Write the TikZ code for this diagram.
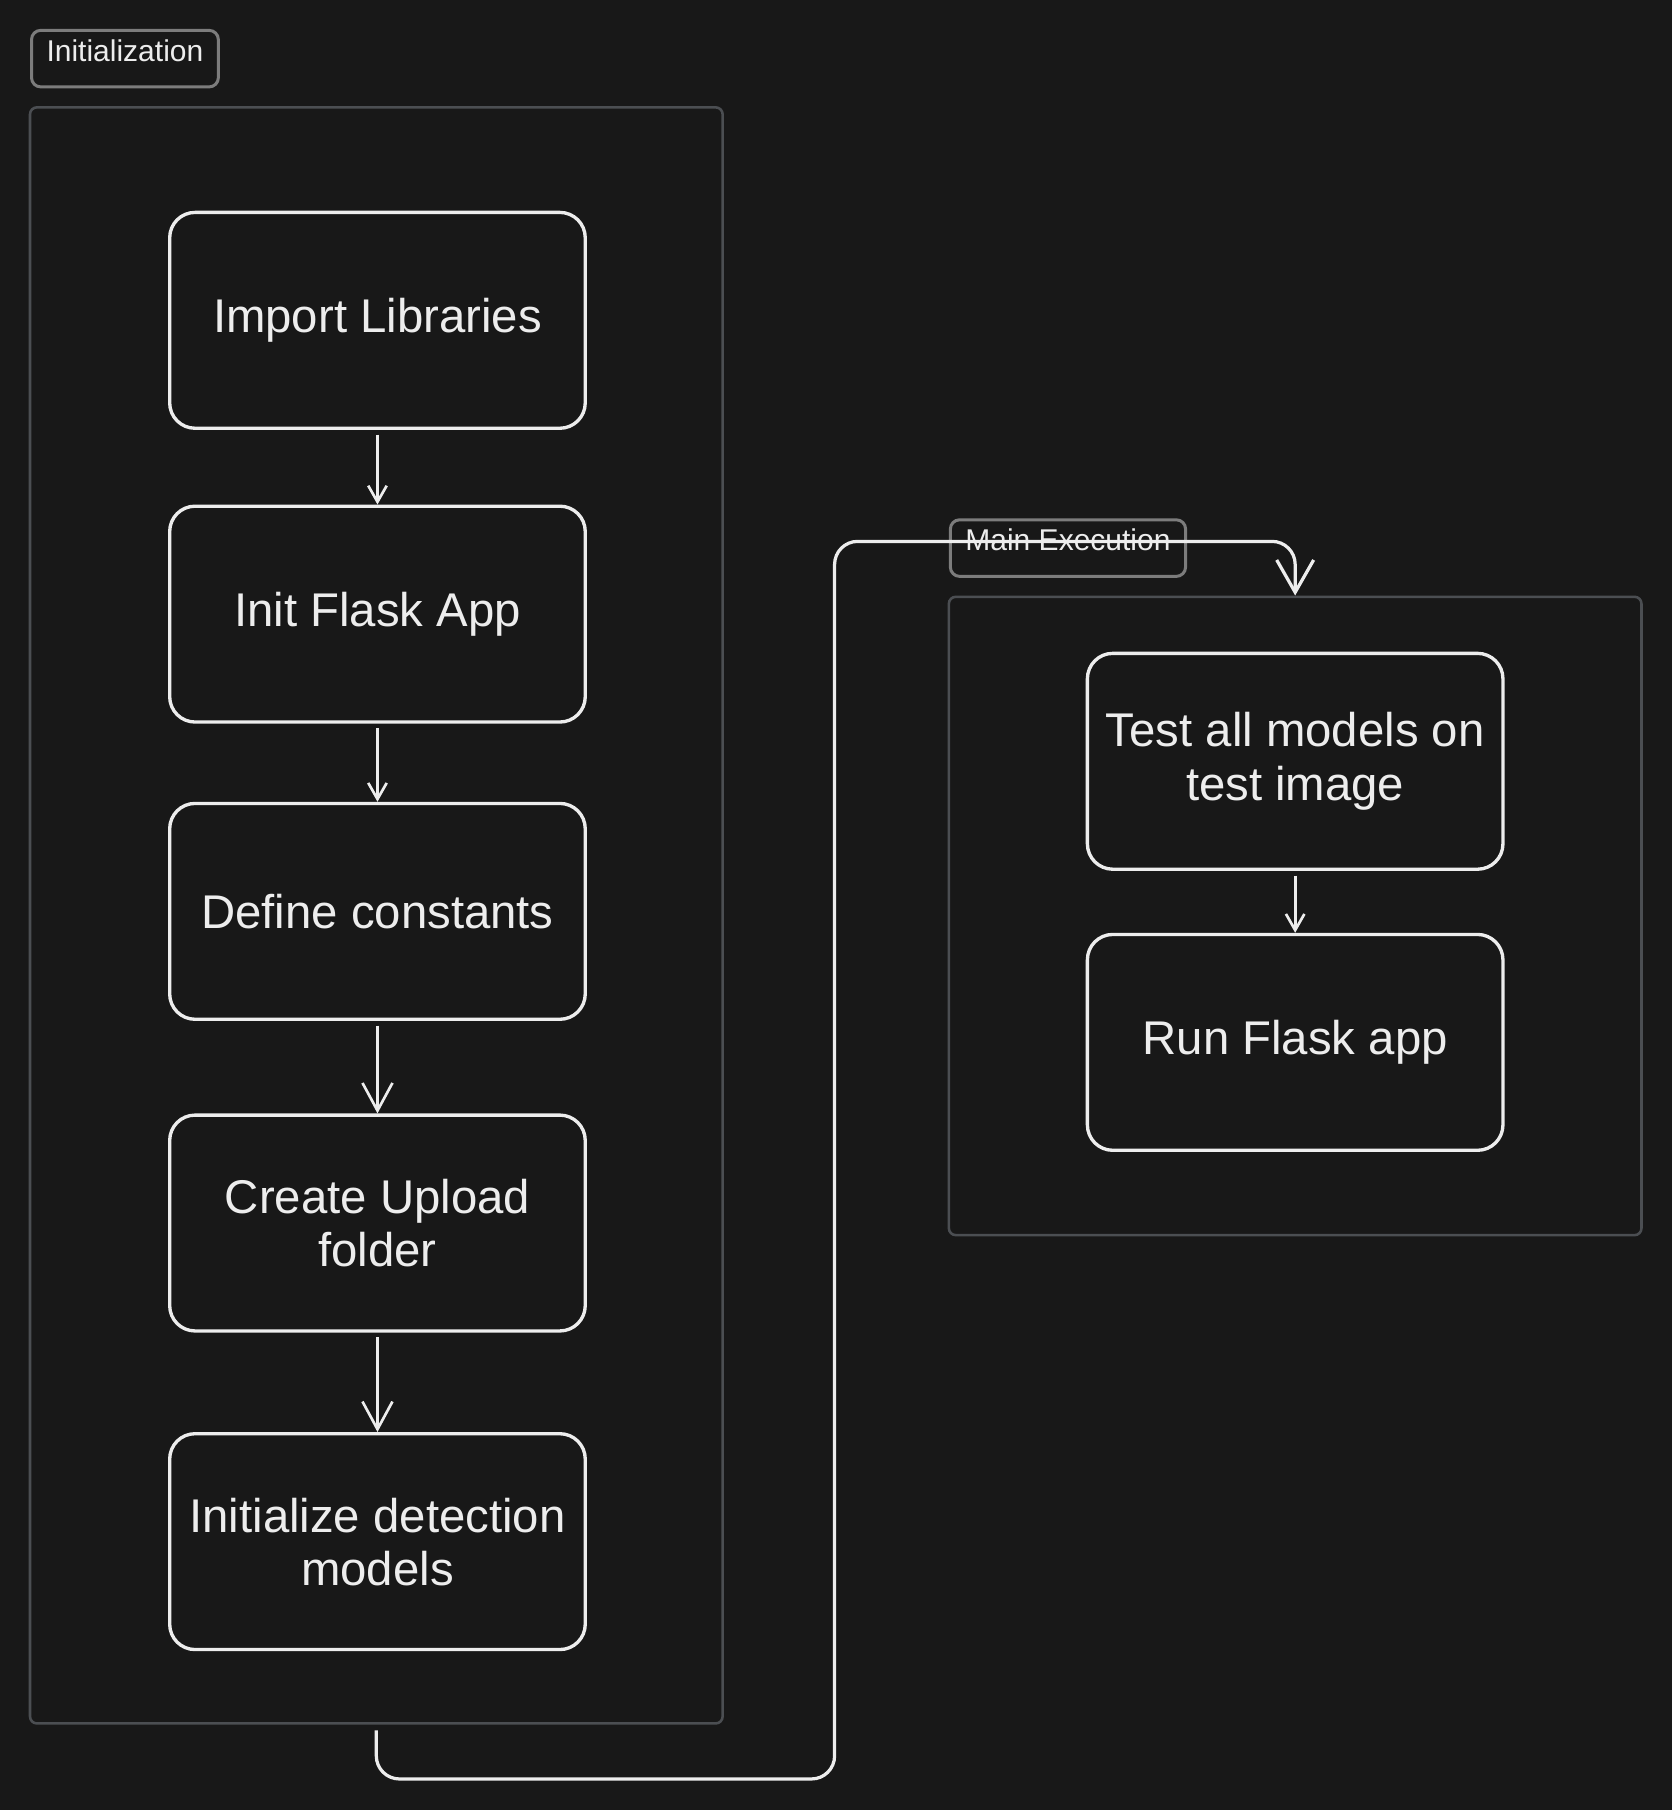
\documentclass[tikz,border=0pt]{standalone}
\usepackage{fontspec}
\setmainfont{Liberation Sans}
\usetikzlibrary{arrows.meta}
\definecolor{canvas}{HTML}{181818}
\definecolor{ink}{HTML}{EDEDED}
\definecolor{framegray}{HTML}{4B4E52}
\definecolor{taggray}{HTML}{7C7C7C}

\begin{document}
\begin{tikzpicture}[
    x=0.5pt, y=-0.5pt,
    every node/.style={text=ink},
    task/.style={draw=ink, line width=1.45pt, rounded corners=11pt, minimum width=180pt, minimum height=93.5pt, align=center, font=\fontsize{20.5}{23}\selectfont},
    group/.style={draw=framegray, line width=1.1pt, rounded corners=3pt, minimum width=300pt},
    grouptag/.style={draw=taggray, line width=1.3pt, rounded corners=4pt, anchor=north west, inner xsep=6.5pt, inner ysep=0pt, text height=13.5pt, text depth=11pt, font=\fontsize{13}{15}\selectfont},
    flow/.style={draw=ink, line width=1.15pt, -{Straight Barb[length=7pt,width=8pt]}},
    flowbig/.style={draw=ink, line width=1.15pt, -{Straight Barb[length=12pt,width=13pt]}},
    link/.style={draw=ink, line width=1.4pt, rounded corners=10pt, -{Straight Barb[length=14pt,width=16pt]}}
]
\fill[canvas] (0,0) rectangle (1448,1568);

% groups
\node[group, minimum height=700pt] (initframe) at (326,793) {};
\node[group, minimum height=276.5pt] (mainframe) at (1122,793.5) {};
\node[grouptag] (inittag) at (26,25) {Initialization};
\node[grouptag] (maintag) at (822,449) {Main Execution};

% initialization steps
\node[task] (imp) at (327,277.5) {Import Libraries};
\node[task] (flask) at (327,532) {Init Flask App};
\node[task] (consts) at (327,789.5) {Define constants};
\node[task] (upload) at (327,1059.5) {Create Upload\\folder};
\node[task] (models) at (327,1335.5) {Initialize detection\\models};

% main execution steps
\node[task] (test) at (1122,659.5) {Test all models on\\test image};
\node[task] (run) at (1122,903) {Run Flask app};

\draw[flow] ([yshift=-2pt]imp.south) -- (flask.north);
\draw[flow] ([yshift=-2pt]flask.south) -- (consts.north);
\draw[flowbig] ([yshift=-2pt]consts.south) -- (upload.north);
\draw[flowbig] ([yshift=-2pt]upload.south) -- (models.north);
\draw[flow] ([yshift=-2pt]test.south) -- (run.north);

\coordinate (bend) at (723,469);
\draw[link] ([yshift=-2.5pt]initframe.south) -- ++(0,42) -| (bend) -| (mainframe.north);
\end{tikzpicture}
\end{document}
